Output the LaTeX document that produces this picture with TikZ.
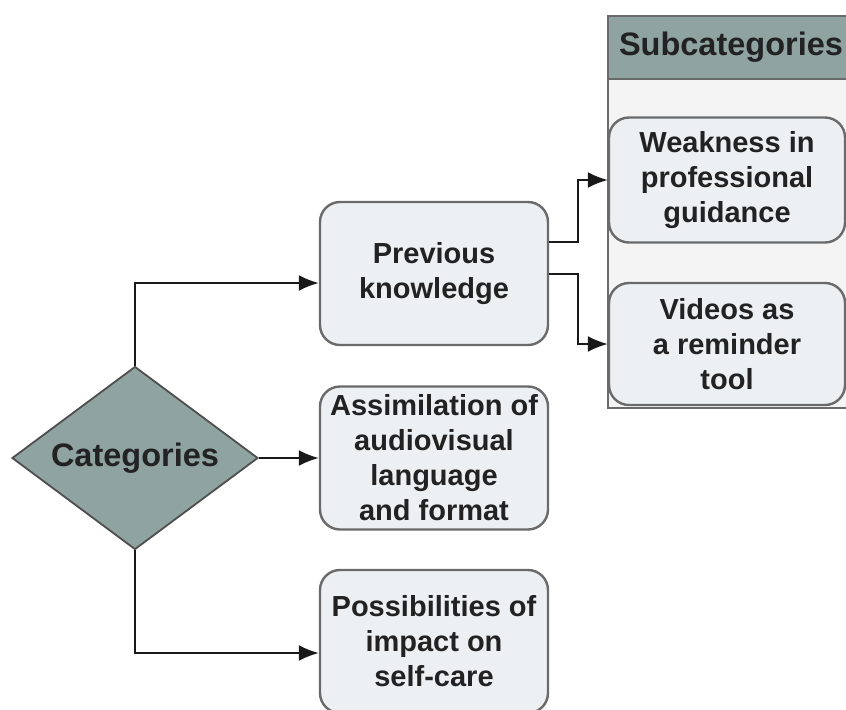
\documentclass[tikz,border=0pt]{standalone}
\usepackage{fontspec}
\setmainfont{Liberation Sans}
\usetikzlibrary{arrows.meta, positioning, shapes.geometric}
\definecolor{cslate}{HTML}{8FA3A0}
\definecolor{cbox}{HTML}{ECF0F2}
\definecolor{cpanel}{HTML}{F4F4F4}
\definecolor{cedge}{HTML}{6A6A6A}
\definecolor{cink}{HTML}{222222}
\tikzset{
  every picture/.style={font=\bfseries, line width=1pt},
  catbox/.style={draw=cedge, fill=cbox, rounded corners=10pt, align=center, inner sep=2pt,
    minimum width=114pt, minimum height=71.5pt, text=cink, line width=1.2pt,
    font=\fontsize{14.5}{17.5}\selectfont\bfseries},
  subbox/.style={catbox, minimum width=118pt},
  decision/.style={diamond, draw=cink!80, fill=cslate, inner sep=0pt, aspect=1.34,
    minimum width=123pt, minimum height=91.5pt, text=cink, line width=0.9pt,
    font=\fontsize{16.25}{19}\selectfont\bfseries},
  panel/.style={draw=cedge, fill=cpanel, line width=1.2pt, minimum width=136.5pt, inner sep=0pt},
  panelhead/.style={panel, fill=cslate, minimum height=31.5pt},
  headtext/.style={inner sep=0pt, text=cink, font=\fontsize{16.25}{19}\selectfont\bfseries},
  arrow/.style={-{Latex[length=10pt, width=8pt]}, draw=black!90, line width=1pt},
}
\begin{document}
\begin{tikzpicture}[x=0.5pt, y=-0.5pt]
  \useasboundingbox (0,0) rectangle (846,709);
  \clip (0,0) rectangle (846,709);
  % ---------- subcategories panel ----------
  \node[panel, minimum height=196pt, anchor=north west] (panel) at (607,15) {};
  \node[panelhead, anchor=north west] (subhead) at (607,15) {};
  \node[headtext, anchor=west] (subtitle) at (618,47) {Subcategories};
  \node[subbox, minimum height=62.5pt] (weak) at (727,180) {Weakness in\\professional\\guidance};
  \node[subbox, minimum height=61pt] (videos) at (727,344) {Videos as\\a reminder\\tool};
  % ---------- categories ----------
  \node[decision] (cat) at (135,458) {Categories};
  \node[catbox] (pk) at (434,273.5) {Previous\\knowledge};
  \node[catbox] (assim) at (434,458) {Assimilation of\\audiovisual\\language\\and format};
  \node[catbox] (poss) at (434,641.5) {Possibilities of\\impact on\\self-care};
  % ---------- connectors ----------
  \draw[arrow] (cat.north) |- ([yshift=-4.75pt]pk.west);
  \draw[arrow] (cat.east) -- (assim.west);
  \draw[arrow] (cat.south) |- ([yshift=-5.75pt]poss.west);
  \draw[arrow] ([yshift=15.75pt]pk.east) -- ++(29,0) |- (weak.west);
  \draw[arrow] (pk.east) -- ++(29,0) |- (videos.west);
\end{tikzpicture}
\end{document}
